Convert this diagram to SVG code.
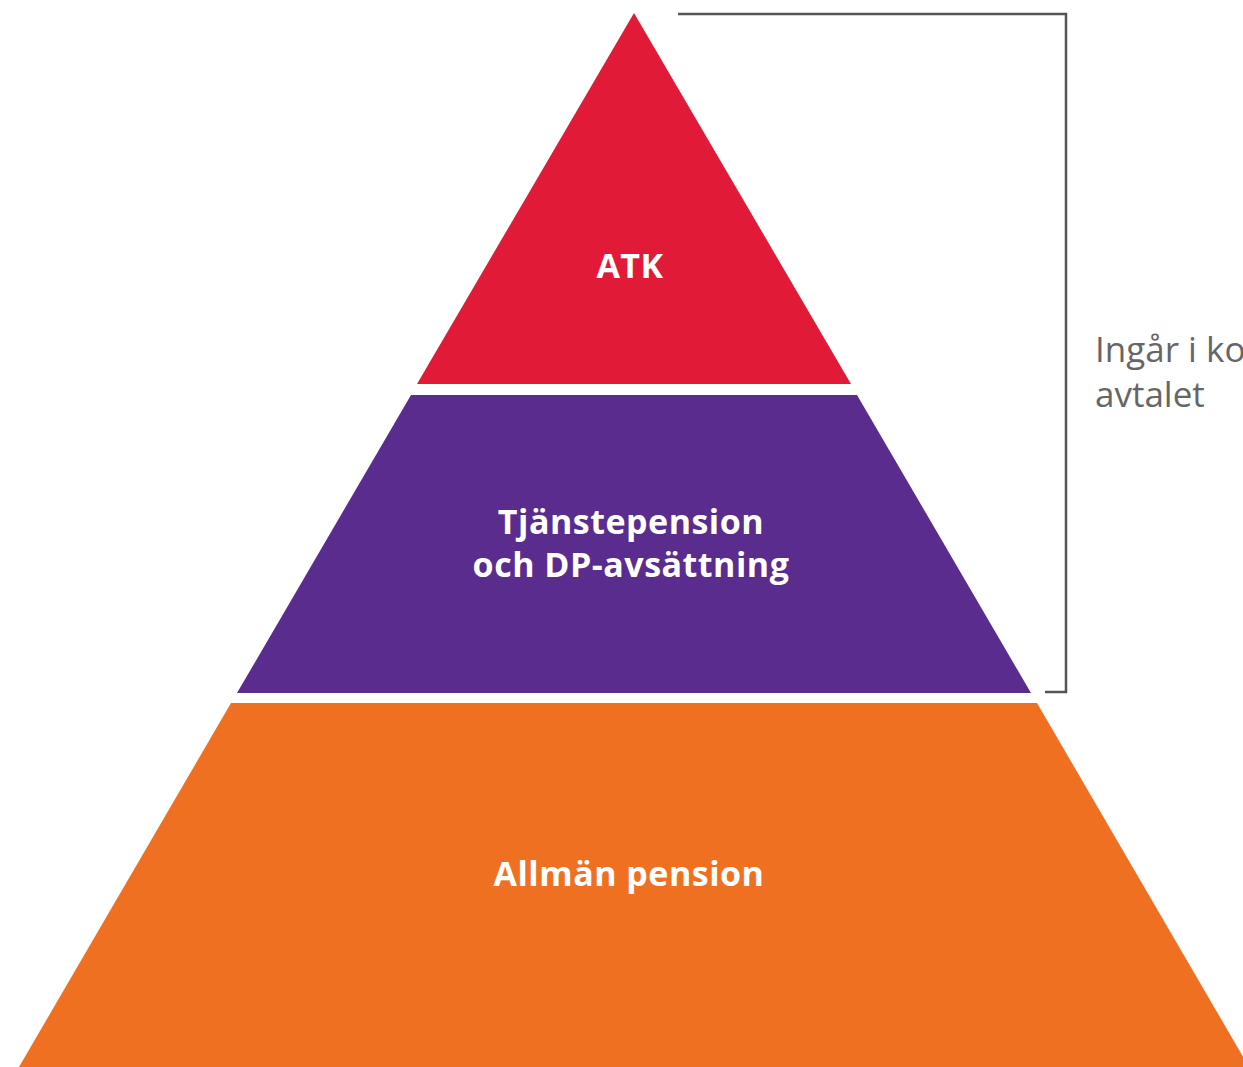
<svg xmlns="http://www.w3.org/2000/svg" width="1243" height="1067" viewBox="0 0 1243 1067">
<style>
.lbl{font-family:"Open Sans","Liberation Sans",sans-serif;font-weight:700;font-size:34px;letter-spacing:0.5px;fill:#ffffff;text-anchor:middle}
.side{font-family:"Open Sans","Liberation Sans",sans-serif;font-size:35px;fill:#666666}
.br{fill:none;stroke:#555555;stroke-width:2.5}
</style>
<rect width="1243" height="1067" fill="#ffffff"/>
<g id="atk">
<polygon points="634,13 851,384 417,384" fill="#E11A37"/>
<text class="lbl" x="630" y="278" font-size="32">ATK</text>
</g>
<g id="tjanstepension">
<polygon points="411,395 857,395 1031,693 237,693" fill="#5A2C8E"/>
<text class="lbl" x="631" y="534" fill="#f3eaff">Tjänstepension</text>
<text class="lbl" x="631" y="577" fill="#f3eaff">och DP-avsättning</text>
</g>
<g id="allman">
<polygon points="231,703 1037,703 1249,1067 19,1067" fill="#F07022"/>
<text class="lbl" x="629" y="886">Allmän pension</text>
</g>
<g id="connectors">
<polyline class="br" points="678,14 1066,14 1066,692 1045,692"/>
</g>
<g id="note">
<text class="side" x="1095" y="362">Ingår i ko</text>
<text class="side" x="1095" y="407">avtalet</text>
</g>
</svg>
